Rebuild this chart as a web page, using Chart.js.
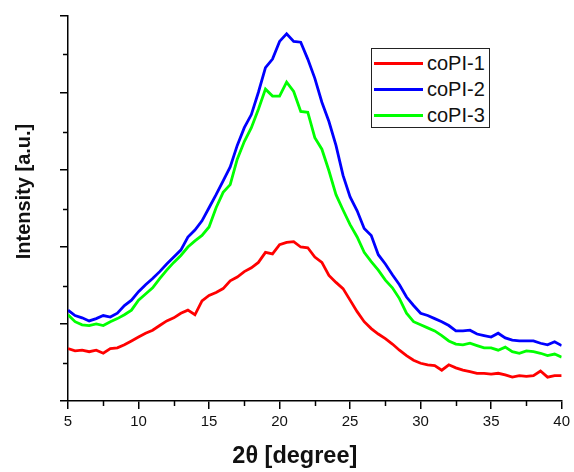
<!DOCTYPE html>
<html>
<head>
<meta charset="utf-8">
<script src="https://cdn.jsdelivr.net/npm/chart.js@4/dist/chart.umd.min.js"></script>
<style>
  html, body { margin: 0; padding: 0; background: #fff; }
  #wrap { position: relative; width: 574px; height: 472px; }
  #legend { position: absolute; left: 371px; top: 48px; width: 117px; height: 78px;
            border: 1.5px solid #222; background: #fff; font-family: "Liberation Sans", Arial, sans-serif; }
  .item { position: absolute; left: 0; height: 26px; width: 117px; }
  .item .sw { position: absolute; left: 2px; width: 49px; height: 3px; top: 12px; }
  .item .tx { position: absolute; left: 55px; top: 1px; font-size: 20px; line-height: 24px; color: #111; }
</style>
</head>
<body>
<div id="wrap">
  <canvas id="c" width="574" height="472"></canvas>
  <div id="legend"></div>
</div>
<script>
const angles = [5,5.5,6,6.5,7,7.5,8,8.5,9,9.5,10,10.5,11,11.5,12,12.5,13,13.5,14,14.5,15,15.5,16,16.5,17,17.5,18,18.5,19,19.5,20,20.5,21,21.5,22,22.5,23,23.5,24,24.5,25,25.5,26,26.5,27,27.5,28,28.5,29,29.5,30,30.5,31,31.5,32,32.5,33,33.5,34,34.5,35,35.5,36,36.5,37,37.5,38,38.5,39,39.5,40];

const coPI1 = [68,65,66,64,66,62,68,69,73,78,83,88,92,98,104,108,114,118,112,130,137,141,146,156,161,168,173,180,193,191,203,206,207,200,199,187,180,163,154,146,131,116,103,94,87,81,74,66,59,53,49,47,46,40,47,43,40,38,36,36,35,36,34,31,33,32,33,39,31,33,33];

const coPI2 = [118,111,108,104,107,111,109,114,124,131,142,151,159,168,178,187,196,213,222,234,251,268,286,304,332,355,372,401,433,444,467,477,467,466,444,419,388,363,332,293,265,247,224,215,190,178,164,151,135,124,114,111,107,103,98,91,91,92,87,85,83,88,82,79,78,78,78,75,73,77,72];

const coPI3 = [112,103,99,98,100,98,103,107,112,118,131,139,147,159,170,180,189,200,208,215,226,251,271,281,314,337,355,379,405,396,396,414,402,376,375,342,327,299,268,248,229,213,193,181,170,157,147,133,114,103,99,95,91,85,78,74,73,75,72,69,69,66,70,64,62,65,64,62,59,61,57];

const seriesNames = ['coPI-1', 'coPI-2', 'coPI-3'];
const seriesColors = ['#ff0000', '#0000ff', '#00ff00'];

const xMinorTicks = [7.5,12.5,17.5,22.5,27.5,32.5,37.5];
const yMinorTicks = [50,150,250,350,450];

const FONT = '"Liberation Sans", Arial, sans-serif';

function pts(vals) { return angles.map((a, i) => ({x: a, y: vals[i]})); }

const minorTickPlugin = {
  id: 'minorTicks',
  afterDraw(chart) {
    const {ctx, scales: {x, y}} = chart;
    ctx.save();
    ctx.strokeStyle = '#000';
    ctx.lineWidth = 1.5;
    xMinorTicks.forEach(v => {
      const px = Math.round(x.getPixelForValue(v)) + 0.5;
      ctx.beginPath(); ctx.moveTo(px, x.top); ctx.lineTo(px, x.top + 5); ctx.stroke();
    });
    yMinorTicks.forEach(v => {
      const py = Math.round(y.getPixelForValue(v)) + 0.5;
      ctx.beginPath(); ctx.moveTo(y.right, py); ctx.lineTo(y.right - 5, py); ctx.stroke();
    });
    ctx.restore();
  }
};

// the reference's axis titles sit off-centre toward the origin
const titleOffsetPlugin = {
  id: 'titleOffset',
  beforeDraw(chart) {
    const shifts = { x: [-20, 0], y: [0, -17] };
    Object.keys(shifts).forEach(id => {
      const s = chart.scales[id];
      if (!s || s._titlePatched) return;
      const orig = s.drawTitle;
      const [dx, dy] = shifts[id];
      s.drawTitle = function () {
        this.ctx.save();
        this.ctx.translate(dx, dy);
        orig.call(this);
        this.ctx.restore();
      };
      s._titlePatched = true;
    });
  }
};

const datasets = [coPI1, coPI2, coPI3].map((vals, i) => ({
  label: seriesNames[i],
  data: pts(vals),
  borderColor: seriesColors[i],
  backgroundColor: seriesColors[i],
  borderWidth: 2.8,
  pointRadius: 0,
  tension: 0,
  fill: false,
  order: [1, 2, 0][i]
}));

const chart = new Chart(document.getElementById('c'), {
  type: 'line',
  data: { datasets },
  options: {
    responsive: false,
    animation: false,
    devicePixelRatio: 1,
    layout: { padding: { top: 16, right: 12, bottom: 0, left: 0 } },
    plugins: { legend: { display: false }, tooltip: { enabled: false } },
    scales: {
      x: {
        type: 'linear',
        min: 5, max: 40,
        afterFit: s => { s.height = 71; },
        ticks: { stepSize: 5, color: '#111', padding: 4, font: { family: FONT, size: 15 } },
        grid: { drawOnChartArea: false, drawTicks: true, tickLength: 8, color: '#000', lineWidth: 1.5 },
        border: { display: true, color: '#000', width: 1.5 },
        title: { display: true, text: '2θ [degree]', color: '#111', padding: { top: 0, bottom: 1 },
                 font: { family: FONT, size: 23.5, weight: 'bold' } }
      },
      y: {
        min: 0, max: 500,
        afterFit: s => { s.width = 68; },
        ticks: { stepSize: 100, callback: () => '', font: { family: FONT, size: 15 } },
        grid: { drawOnChartArea: false, drawTicks: true, tickLength: 8, color: '#000', lineWidth: 1.5 },
        border: { display: true, color: '#000', width: 1.5 },
        title: { display: true, text: 'Intensity [a.u.]', color: '#111', padding: { top: 12, bottom: 0 },
                 font: { family: FONT, size: 20, weight: 'bold' } }
      }
    }
  },
  plugins: [minorTickPlugin, titleOffsetPlugin]
});

const legendEl = document.getElementById('legend');
chart.data.datasets.forEach((ds, i) => {
  const item = document.createElement('div');
  item.className = 'item';
  item.style.top = (i * 26 + 1) + 'px';
  const sw = document.createElement('div');
  sw.className = 'sw';
  sw.style.background = ds.borderColor;
  const tx = document.createElement('div');
  tx.className = 'tx';
  tx.textContent = ds.label;
  item.appendChild(sw); item.appendChild(tx);
  legendEl.appendChild(item);
});
</script>
</body>
</html>
